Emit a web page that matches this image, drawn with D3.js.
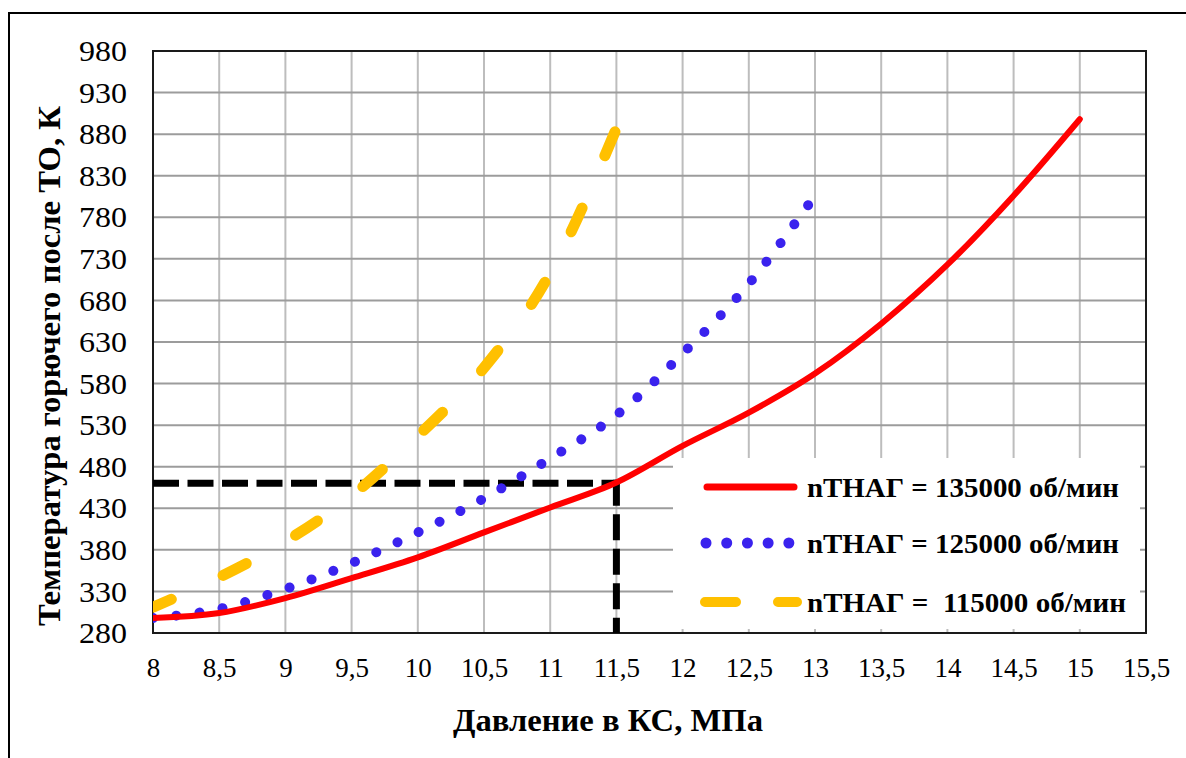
<!DOCTYPE html>
<html>
<head>
<meta charset="utf-8">
<script src="https://cdn.jsdelivr.net/npm/d3@7/dist/d3.min.js"></script>
<style>
  body { margin: 0; background: #fff; }
</style>
</head>
<body>
<div id="grafik"></div>
<script>
// данные
const xTicks = [8, 8.5, 9, 9.5, 10, 10.5, 11, 11.5, 12, 12.5, 13, 13.5, 14, 14.5, 15, 15.5];
const yTicks = [280, 330, 380, 430, 480, 530, 580, 630, 680, 730, 780, 830, 880, 930, 980];

const p135 = [8, 8.5, 9, 9.5, 10, 10.5, 11, 11.5, 12, 12.5, 13, 13.5, 14, 14.5, 15];
const t135 = [298, 304, 322, 346, 371, 401, 431, 461, 505, 545, 592, 652, 723, 806, 898];

const p125 = [8, 8.5, 9, 9.5, 10, 10.5, 11, 11.5, 12, 12.5, 12.95];
const t125 = [298, 309, 333, 364, 401, 442, 490, 542, 616, 700, 795];

const p115 = [8, 8.5, 9, 9.5, 10, 10.5, 11, 11.5];
const t115 = [311, 347, 390, 445, 517, 599, 713, 887];

const refP = 11.5, refT = 460;

const labels = ["nТНАГ = 135000 об/мин", "nТНАГ = 125000 об/мин", "nТНАГ =  115000 об/мин"];

const FONT = "'Liberation Serif', 'Times New Roman', serif";
const W = 1186, H = 758;
const pL = 153, pT = 51, pR = 1146, pB = 633;

const svg = d3.select("#grafik")
  .append("svg")
  .attr("width", W)
  .attr("height", H)
  .attr("font-family", FONT);

// внешняя рамка
svg.append("rect")
  .attr("x", 9).attr("y", 13)
  .attr("width", 1300).attr("height", 900)
  .attr("fill", "#fff")
  .attr("stroke", "#000")
  .attr("stroke-width", 2);

const x = d3.scaleLinear().domain([8, 15.5]).range([pL, pR]);
const y = d3.scaleLinear().domain([280, 980]).range([pB, pT]);

// сетка
svg.append("g")
  .selectAll("line")
  .data(xTicks.slice(1, -1))
  .enter().append("line")
  .attr("x1", d => x(d)).attr("x2", d => x(d))
  .attr("y1", pT).attr("y2", pB)
  .attr("stroke", "#bdbdbd")
  .attr("stroke-width", 2);

svg.append("g")
  .selectAll("line")
  .data(yTicks.slice(1, -1))
  .enter().append("line")
  .attr("x1", pL).attr("x2", pR)
  .attr("y1", d => y(d)).attr("y2", d => y(d))
  .attr("stroke", "#9c9c9c")
  .attr("stroke-width", 2);

// подписи осей (через d3 оси, без линий)
const xAxis = svg.append("g")
  .attr("transform", `translate(0,${pB})`)
  .call(d3.axisBottom(x).tickValues(xTicks).tickSize(0).tickPadding(0)
    .tickFormat(d => String(d).replace(".", ",")));
xAxis.attr("font-family", FONT).attr("font-size", 27);
xAxis.select(".domain").remove();
xAxis.selectAll("text")
  .attr("y", 44).attr("dy", 0)
  .style("font-family", FONT)
  .style("font-size", "27px");

const yAxis = svg.append("g")
  .attr("transform", `translate(127,0)`)
  .call(d3.axisLeft(y).tickValues(yTicks).tickSize(0).tickPadding(0));
yAxis.attr("font-family", FONT).attr("font-size", 29);
yAxis.select(".domain").remove();
yAxis.selectAll("text")
  .attr("x", 0).attr("dy", "0.33em")
  .attr("textLength", 48)
  .attr("lengthAdjust", "spacingAndGlyphs")
  .style("font-family", FONT)
  .style("font-size", "29px");

// легенда (белый фон поверх сетки)
svg.append("rect")
  .attr("x", 673).attr("y", 458)
  .attr("width", 467).attr("height", 171)
  .attr("fill", "#fff");

// рамка области построения
svg.append("rect")
  .attr("x", pL).attr("y", pT)
  .attr("width", pR - pL).attr("height", pB - pT)
  .attr("fill", "none")
  .attr("stroke", "#1a1a1a")
  .attr("stroke-width", 2);

svg.append("defs").append("clipPath")
  .attr("id", "plot")
  .append("rect")
  .attr("x", pL).attr("y", pT)
  .attr("width", pR - pL).attr("height", pB - pT);

const plot = svg.append("g").attr("clip-path", "url(#plot)");

// пунктир — рабочая точка
plot.append("path")
  .attr("d", `M${x(8)},${y(refT)}H${x(refP)}`)
  .attr("stroke", "#000")
  .attr("stroke-width", 7)
  .attr("stroke-dasharray", "26,8.5")
  .attr("fill", "none");
plot.append("path")
  .attr("d", `M${x(refP)},${y(refT) - 3.5}V${y(280)}`)
  .attr("stroke", "#000")
  .attr("stroke-width", 7)
  .attr("stroke-dasharray", "26,8.5")
  .attr("fill", "none");

const line = d3.line()
  .x(d => x(d[0]))
  .y(d => y(d[1]))
  .curve(d3.curveMonotoneX);

const series = [
  {pts: d3.zip(p135, t135), color: "#ff0000", width: 6, dash: null, offset: 0},
  {pts: d3.zip(p125, t125), color: "#3a22ee", width: 10, dash: "dots", offset: 0},
  {pts: d3.zip(p115, t115), color: "#ffc000", width: 11, dash: "26,57", offset: 6}
];

plot.selectAll(".curve")
  .data(series.slice().reverse())
  .enter().append("path")
  .attr("class", "curve")
  .attr("d", d => line(d.pts))
  .attr("fill", "none")
  .attr("stroke", d => d.color)
  .attr("stroke-width", d => d.width)
  .attr("stroke-linecap", "round")
  .attr("stroke-dashoffset", d => d.offset)
  .attr("stroke-dasharray", function(d) {
    if (d.dash !== "dots") return d.dash;
    // точки — подгоняем шаг, чтобы последняя точка легла в конец линии
    const L = this.getTotalLength() - 0.5;
    const step = L / Math.round(L / 23.6);
    return `0.01,${step - 0.01}`;
  });

// элементы легенды
const legRows = [487, 543, 602];
const leg = svg.append("g");

leg.append("line")
  .attr("x1", 707).attr("x2", 794)
  .attr("y1", legRows[0]).attr("y2", legRows[0])
  .attr("stroke", series[0].color)
  .attr("stroke-width", 7)
  .attr("stroke-linecap", "round");

leg.append("line")
  .attr("x1", 706).attr("x2", 789)
  .attr("y1", legRows[1]).attr("y2", legRows[1])
  .attr("stroke", series[1].color)
  .attr("stroke-width", 11)
  .attr("stroke-linecap", "round")
  .attr("stroke-dasharray", "0.01,20.7");

leg.append("line")
  .attr("x1", 705).attr("x2", 797)
  .attr("y1", legRows[2]).attr("y2", legRows[2])
  .attr("stroke", series[2].color)
  .attr("stroke-width", 10)
  .attr("stroke-linecap", "round")
  .attr("stroke-dasharray", "31,42,19,100");

leg.selectAll("text")
  .data(labels)
  .enter().append("text")
  .attr("x", 807)
  .attr("y", (d, i) => legRows[i] + 10)
  .attr("textLength", (d, i) => i === 2 ? 319 : 312)
  .attr("lengthAdjust", "spacingAndGlyphs")
  .style("white-space", "pre")
  .style("font-family", FONT)
  .style("font-size", "28px")
  .style("font-weight", "bold")
  .text(d => d);

// названия осей
svg.append("text")
  .attr("x", 608)
  .attr("y", 731)
  .attr("text-anchor", "middle")
  .attr("textLength", 310)
  .attr("lengthAdjust", "spacingAndGlyphs")
  .style("font-family", FONT)
  .style("font-size", "32px")
  .style("font-weight", "bold")
  .text("Давление в КС, МПа");

svg.append("text")
  .attr("transform", "translate(60,366) rotate(-90)")
  .attr("text-anchor", "middle")
  .attr("textLength", 520)
  .attr("lengthAdjust", "spacingAndGlyphs")
  .style("font-family", FONT)
  .style("font-size", "32px")
  .style("font-weight", "bold")
  .text("Температура горючего после ТО, К");
</script>
</body>
</html>
